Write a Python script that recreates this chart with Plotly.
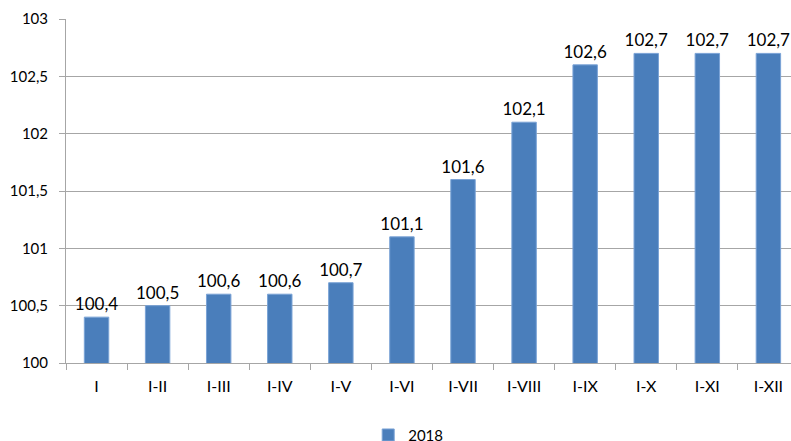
import plotly.graph_objects as go

categories = ["I", "I-II", "I-III", "I-IV", "I-V", "I-VI", "I-VII", "I-VIII", "I-IX", "I-X", "I-XI", "I-XII"]
values_2018 = [100.4, 100.5, 100.6, 100.6, 100.7, 101.1, 101.6, 102.1, 102.6, 102.7, 102.7, 102.7]
y_tickvals = [100, 100.5, 101, 101.5, 102, 102.5, 103]
y_ticktext = ["100", "100,5", "101", "101,5", "102", "102,5", "103"]
labels = [f"{v:.1f}".replace(".", ",") for v in values_2018]

FONT = "Lato, sans-serif"

fig = go.Figure()
fig.add_trace(go.Bar(
    x=categories, y=values_2018, name="2018",
    marker=dict(color="#4a7ebb", line=dict(color="#7aa3d6", width=1)),
    text=labels, textposition="outside", cliponaxis=False, constraintext="none",
    textfont=dict(size=17, color="#000000", family=FONT),
))
fig.update_layout(
    width=791, height=441,
    margin=dict(l=66, r=0, t=19, b=78, autoexpand=False),
    paper_bgcolor="white", plot_bgcolor="white",
    font=dict(family=FONT, size=15, color="#000000"),
    bargap=0.6,
    showlegend=True,
    legend=dict(orientation="h", x=0.472, xanchor="center", y=-0.162, yanchor="top",
                font=dict(size=15, family=FONT)),
    xaxis=dict(range=[-0.5, 11.37], showline=True, linecolor="#a6a6a6", linewidth=1,
               ticks="outside", tickson="boundaries", ticklen=6, tickcolor="#a6a6a6",
               showgrid=False, tickfont=dict(size=16, family=FONT), ticklabelstandoff=9,
               automargin=False),
    yaxis=dict(range=[100, 103], tickvals=y_tickvals, ticktext=y_ticktext,
               showline=True, linecolor="#a6a6a6", linewidth=1,
               ticks="outside", ticklen=6, tickcolor="#a6a6a6",
               showgrid=True, gridcolor="#a6a6a6", gridwidth=1, zeroline=False,
               tickfont=dict(size=15, family=FONT), ticklabelstandoff=8, automargin=False),
)
fig.write_html("out.html", config={"displayModeBar": False},
               post_script="document.body.style.margin='0';document.body.style.overflow='hidden';")
